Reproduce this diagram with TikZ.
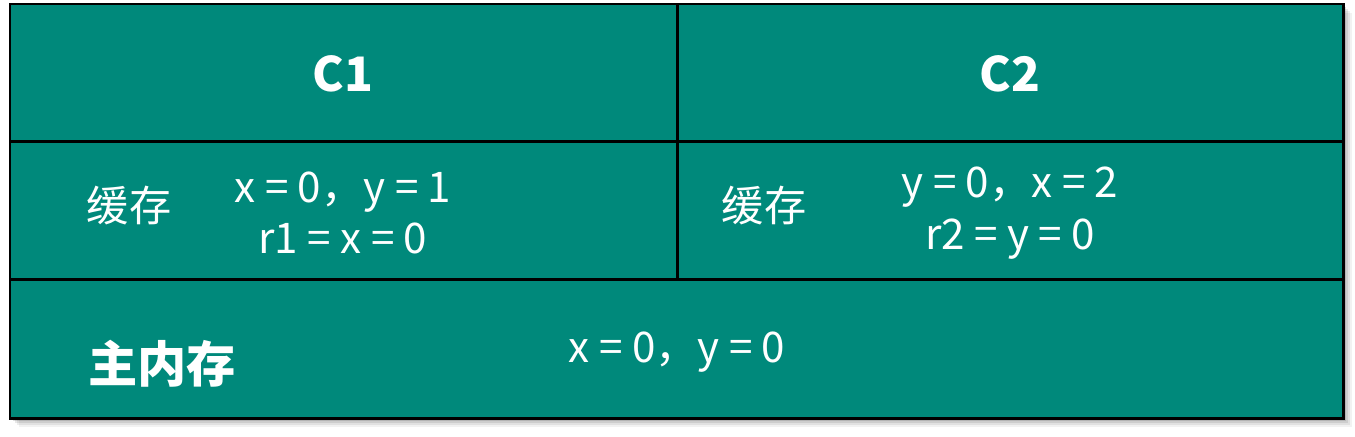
\documentclass[tikz,border=0pt]{standalone}
\usepackage{fontspec}
\newfontfamily\cjk{Noto Sans CJK SC}
\definecolor{cellteal}{RGB}{0,137,123}

\tikzset{
  gridline/.style={black, line width=0.85pt},
  headtext/.style={text=white, font=\cjk\bfseries\fontsize{13.5}{16}\selectfont},
  celltext/.style={text=white, font=\cjk\fontsize{12}{14.6}\selectfont, align=center},
  labeltext/.style={text=white, font=\cjk\fontsize{12}{14}\selectfont},
  bigtext/.style={text=white, font=\cjk\bfseries\fontsize{14}{16}\selectfont}
}

\begin{document}
\begin{tikzpicture}[x=0.01cm, y=-0.01cm]

  % === CANVAS (pixel units, y downwards) ===
  \useasboundingbox (0,0) rectangle (1355,436);

  % === SOFT SHADOW ===
  \foreach \s/\o in {9/0.05, 7/0.07, 5/0.09, 3/0.12} {
    \fill[black, opacity=\o] (10+\s,4+\s) rectangle (1343+\s,418+\s);
  }

  % === TABLE BODY ===
  \coordinate (nw) at (10,4);
  \coordinate (se) at (1343,418);
  \fill[cellteal] (nw) rectangle (se);

  % row and column boundaries
  \coordinate (rowA west) at (10,141);
  \coordinate (rowA east) at (1343,141);
  \coordinate (rowB west) at (10,279);
  \coordinate (rowB east) at (1343,279);
  \coordinate (mid top) at (677,4);
  \coordinate (mid bot) at (677,279);

  \draw[gridline] (rowA west) -- (rowA east);
  \draw[gridline] (rowB west) -- (rowB east);
  \draw[gridline] (mid top) -- (mid bot);
  \draw[gridline] (nw) rectangle (se);

  % === HEADERS ===
  \node[headtext] (head1) at (343,74) {C1};
  \node[headtext] (head2) at (1010,74) {C2};

  % === CACHE ROW ===
  \node[labeltext] (cache1) at (129,206) {缓存};
  \node[celltext] (vals1) at (343,213) {x = 0，y = 1\\r1 = x = 0};
  \node[labeltext] (cache2) at (764,206) {缓存};
  \node[celltext] (vals2) at (1010,213) {y = 0，x = 2\\r2 = y = 0};

  % === MAIN MEMORY ROW ===
  \node[bigtext] (memlabel) at (162,364) {主内存};
  \node[celltext] (memvals) at (677,352) {x = 0，y = 0};

\end{tikzpicture}
\end{document}
